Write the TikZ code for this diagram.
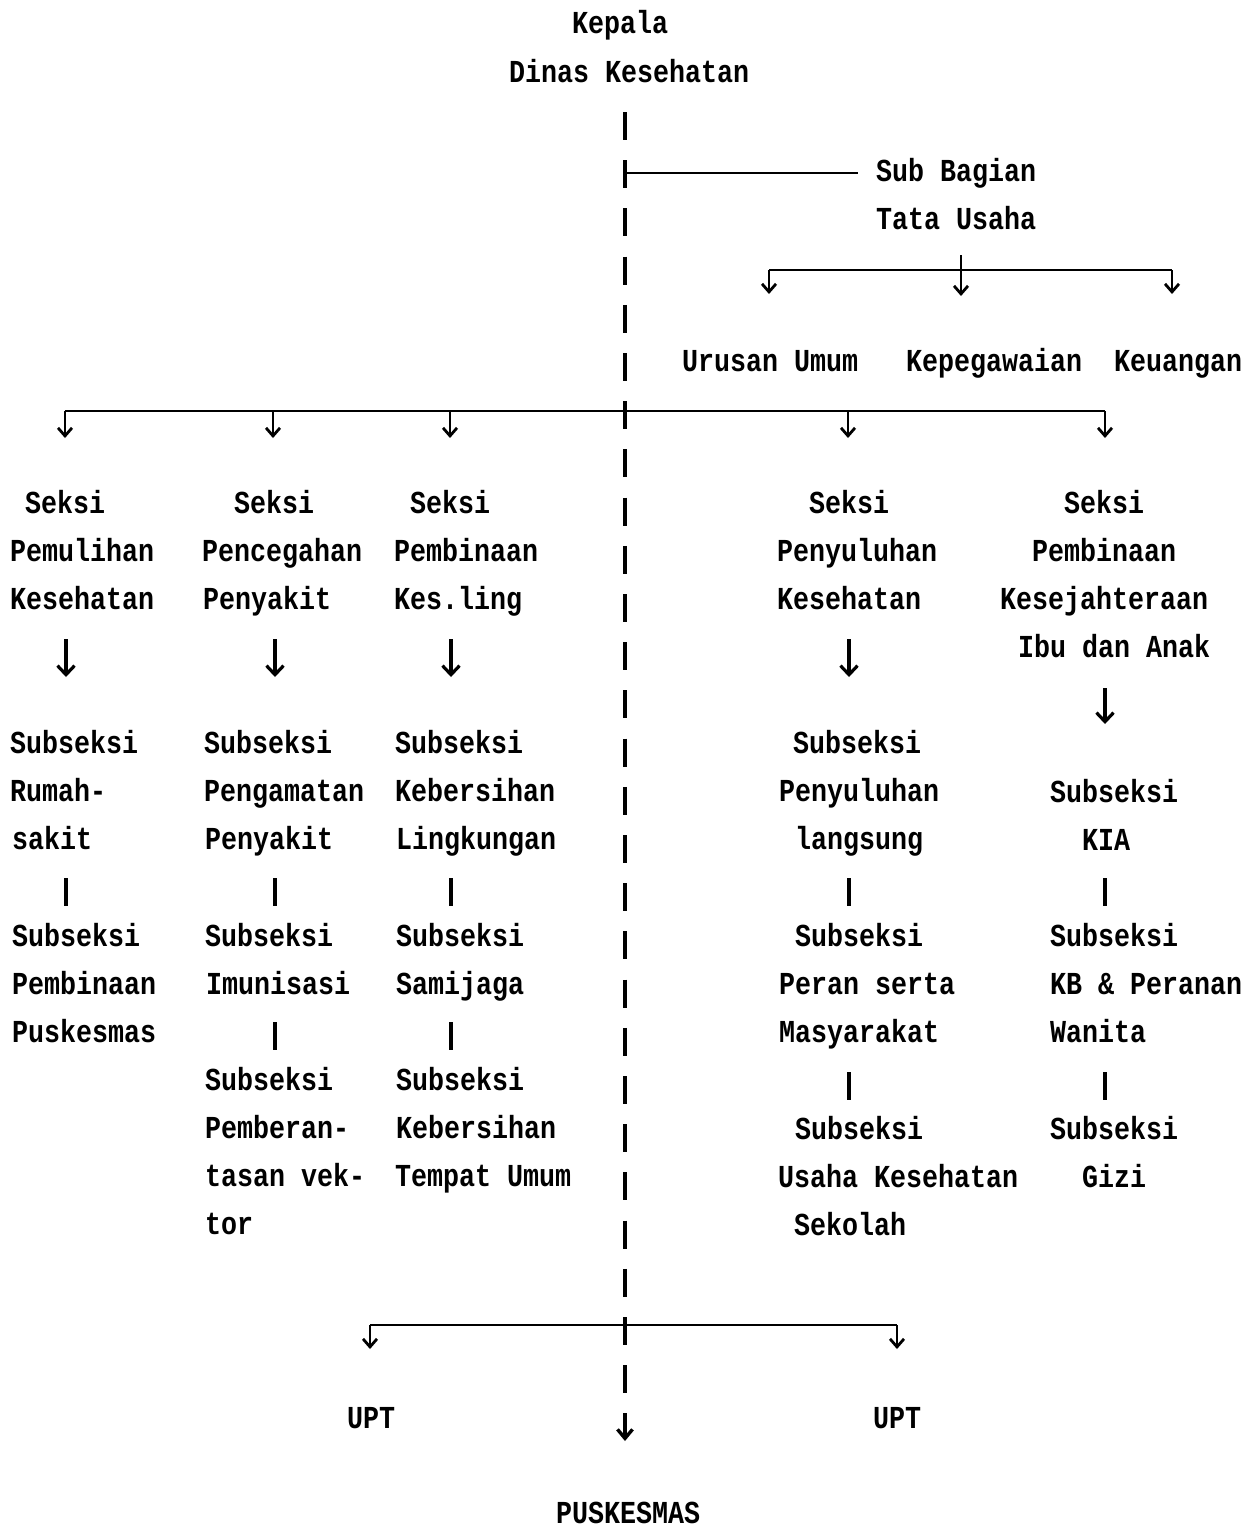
\documentclass[tikz,border=0pt]{standalone}
\usepackage{fontspec}
\usepackage{graphicx}
\usetikzlibrary{arrows.meta}
\newfontfamily\twfont{Liberation Mono}
\newcommand\twtext[1]{\scalebox{1}[1.2]{#1}}
\tikzset{
  txt/.style={anchor=base west, inner sep=0pt, font=\twfont\bfseries\fontsize{26.67pt}{30pt}\selectfont},
  bus/.style={line width=2.6pt},
  bar/.style={line width=3.6pt},
  arr/.style={line width=3.2pt, -{Straight Barb[length=9pt,width=17pt]}},
  stub/.style={line width=2.8pt, -{Straight Barb[length=8pt,width=14pt]}},
  dashline/.style={line width=3.4pt, dash pattern=on 28pt off 20.2pt, -{Straight Barb[length=9pt,width=15pt]}}
}
\newcommand\tblock[3]{\foreach \px/\lab [count=\i] in {#3} {\node[txt] (#1-\i) at (\px, {#2+48.2*(\i-1)}) {\twtext{\lab}};}}
\newcommand\conn[5]{\coordinate (#2-s) at (#3,#4); \coordinate (#2-e) at (#3,#5); \draw[#1] (#2-s) -- (#2-e);}
\begin{document}
\begin{tikzpicture}[x=1pt,y=-1pt]
\useasboundingbox (0,0) rectangle (1258,1528);
\fill[white] (0,0) rectangle (1258,1528);

% top
\node[txt] (kepala) at (572,34) {\twtext{Kepala}};
\node[txt] (dinas) at (509,82) {\twtext{Dinas Kesehatan}};
\node[txt] (sub1) at (876,181) {\twtext{Sub Bagian}};
\node[txt] (sub2) at (876,229) {\twtext{Tata Usaha}};
\node[txt] (urusan) at (682,371) {\twtext{Urusan Umum}};
\node[txt] (pegawai) at (906,371) {\twtext{Kepegawaian}};
\node[txt] (uang) at (1114,371) {\twtext{Keuangan}};

% central dashed line
\coordinate (top) at (625,112);
\coordinate (bot) at (625,1441);
\draw[dashline] (top) -- (bot);

% sub bagian line
\coordinate (sbA) at (627,173);
\coordinate (sbB) at (858,173);
\draw[bus] (sbA) -- (sbB);

% tata usaha branch
\coordinate (tj) at (961,255);
\coordinate (tb) at (961,270);
\coordinate (t1) at (769,294);
\coordinate (t2) at (961,296);
\coordinate (t3) at (1172,294);
\draw[bus] (t1 |- tb) -- (t3 |- tb);
\draw[stub] (tj) -- (t2);
\draw[stub] (t1 |- tb) -- (t1);
\draw[stub] (t3 |- tb) -- (t3);

% main bus
\coordinate (mj) at (625,411);
\coordinate (m1) at (65,438);
\coordinate (m2) at (273,438);
\coordinate (m3) at (450,438);
\coordinate (m4) at (848,438);
\coordinate (m5) at (1105,438);
\draw[bus] (m1 |- mj) -- (m5 |- mj);
\foreach \m in {m1,m2,m3,m4,m5} {\draw[stub] (\m |- mj) -- (\m);}

% column 1
\tblock{c1s}{513}{25/Seksi, 10/Pemulihan, 10/Kesehatan}
\tblock{c1a}{753}{10/Subseksi, 10/Rumah-, 12/sakit}
\tblock{c1b}{946}{12/Subseksi, 12/Pembinaan, 12/Puskesmas}
% column 2
\tblock{c2s}{513}{234/Seksi, 202/Pencegahan, 203/Penyakit}
\tblock{c2a}{753}{204/Subseksi, 204/Pengamatan, 205/Penyakit}
\tblock{c2b}{946}{205/Subseksi, 206/Imunisasi}
\tblock{c2c}{1090}{205/Subseksi, 205/Pemberan-, 205/tasan vek-, 205/tor}
% column 3
\tblock{c3s}{513}{410/Seksi, 394/Pembinaan, 394/Kes.ling}
\tblock{c3a}{753}{395/Subseksi, 395/Kebersihan, 396/Lingkungan}
\tblock{c3b}{946}{396/Subseksi, 396/Samijaga}
\tblock{c3c}{1090}{396/Subseksi, 396/Kebersihan, 395/Tempat Umum}
% column 4
\tblock{c4s}{513}{809/Seksi, 777/Penyuluhan, 777/Kesehatan}
\tblock{c4a}{753}{793/Subseksi, 779/Penyuluhan, 795/langsung}
\tblock{c4b}{946}{795/Subseksi, 779/Peran serta, 779/Masyarakat}
\tblock{c4c}{1139}{795/Subseksi, 778/Usaha Kesehatan, 794/Sekolah}
% column 5
\tblock{c5s}{513}{1064/Seksi, 1032/Pembinaan, 1000/Kesejahteraan, 1018/Ibu dan Anak}
\tblock{c5a}{802}{1050/Subseksi, 1082/KIA}
\tblock{c5b}{946}{1050/Subseksi, 1050/KB \& Peranan, 1050/Wanita}
\tblock{c5c}{1139}{1050/Subseksi, 1082/Gizi}

% seksi -> subseksi arrows
\conn{arr}{a1}{66}{639}{677}
\conn{arr}{a2}{275}{639}{677}
\conn{arr}{a3}{451}{639}{677}
\conn{arr}{a4}{849}{639}{677}
\conn{arr}{a5}{1105}{688}{724}

% bars between subseksi
\conn{bar}{b1}{66}{878}{906}
\conn{bar}{b2}{275}{878}{906}
\conn{bar}{b3}{451}{878}{906}
\conn{bar}{b4}{849}{878}{906}
\conn{bar}{b5}{1105}{878}{906}
\conn{bar}{d2}{275}{1022}{1050}
\conn{bar}{d3}{451}{1022}{1050}
\conn{bar}{d4}{849}{1072}{1100}
\conn{bar}{d5}{1105}{1072}{1100}

% bottom bus
\coordinate (bj) at (625,1325);
\coordinate (u1) at (370,1349);
\coordinate (u2) at (897,1349);
\draw[bus] (u1 |- bj) -- (u2 |- bj);
\draw[stub] (u1 |- bj) -- (u1);
\draw[stub] (u2 |- bj) -- (u2);

\node[txt] (upt1) at (347,1428) {\twtext{UPT}};
\node[txt] (upt2) at (873,1428) {\twtext{UPT}};
\node[txt] (pusk) at (556,1523) {\twtext{PUSKESMAS}};
\end{tikzpicture}
\end{document}
